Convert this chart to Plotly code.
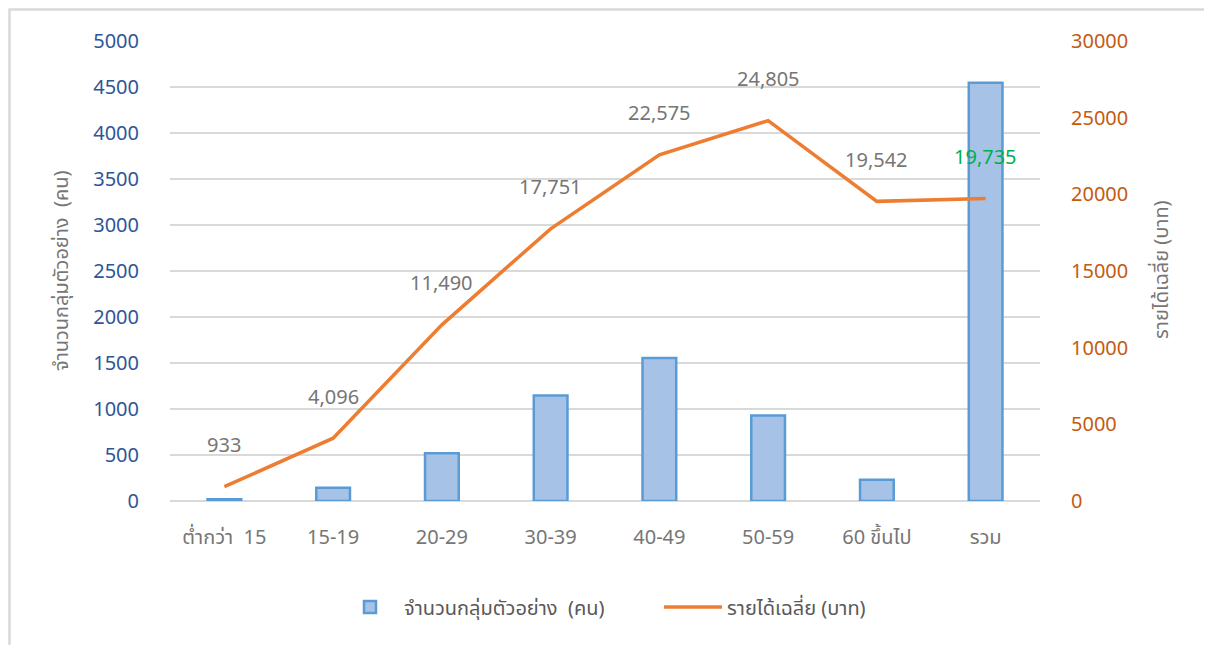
import plotly.graph_objects as go

categories = ["ต่ำกว่า  15", "15-19", "20-29", "30-39", "40-49", "50-59", "60 ขึ้นไป", "รวม"]
sample_count = [18, 145, 519, 1146, 1553, 928, 232, 4545]
avg_income = [933, 4096, 11490, 17751, 22575, 24805, 19542, 19735]
income_labels = ["933", "4,096", "11,490", "17,751", "22,575", "24,805", "19,542", "19,735"]
label_colors = ["#767676"] * 7 + ["#00B050"]

bar_name = "จำนวนกลุ่มตัวอย่าง  (คน)"
line_name = "รายได้เฉลี่ย (บาท)"
left_title = "จำนวนกลุ่มตัวอย่าง  (คน)"
right_title = "รายได้เฉลี่ย (บาท)"

FONT = "Noto Sans, Noto Sans Thai, Tahoma, sans-serif"

# The page body has an 8px margin; work in page pixel coordinates.
OFF = 8
FIG_W, FIG_H = 1212 - 2 * OFF, 653 - 2 * OFF
PL, PR, PT, PB = 170, 1040, 41, 501  # plot area in page pixels
L = PL - OFF
T = PT - OFF
W = PR - PL
H = PB - PT
R = FIG_W - L - W
B = FIG_H - T - H


def px(xp):
    return (xp - PL) / W


def py(yp):
    return (PB - yp) / H


fig = go.Figure()
fig.add_trace(go.Bar(
    x=categories, y=sample_count, name=bar_name, yaxis="y",
    width=0.31,
    marker=dict(color="#a6c2e6", line=dict(color="#5b9bd5", width=2.5)),
))
fig.add_trace(go.Scatter(
    x=categories, y=avg_income, name=line_name, yaxis="y2",
    mode="lines", line=dict(color="#ed7d31", width=3.5),
))

annotations = []
for c, v, t, col in zip(categories, avg_income, income_labels, label_colors):
    annotations.append(dict(
        x=c, y=v, xref="x", yref="y2", text=t, showarrow=False,
        yshift=42, font=dict(size=20, color=col, family=FONT),
    ))
annotations.append(dict(
    x=px(60), y=py(270), xref="paper", yref="paper", text=left_title,
    textangle=-90, showarrow=False, xanchor="center", yanchor="middle",
    font=dict(size=20, color="#767676", family=FONT),
))
annotations.append(dict(
    x=px(1160), y=py(270), xref="paper", yref="paper", text=right_title,
    textangle=-90, showarrow=False, xanchor="center", yanchor="middle",
    font=dict(size=20, color="#767676", family=FONT),
))

# outer chart border: only left and top edges are visible in the reference
bx0, by_top, bx1, by_bot = px(OFF + 1.5), py(OFF + 1.5), px(1240), py(700)
border_path = f"M {bx0},{by_bot} L {bx0},{by_top} L {bx1},{by_top}"

fig.update_layout(
    width=FIG_W, height=FIG_H,
    margin=dict(l=L, r=R, t=T, b=B, autoexpand=False),
    paper_bgcolor="white", plot_bgcolor="white",
    font=dict(family=FONT, size=20, color="#767676"),
    showlegend=True,
    legend=dict(orientation="h", x=px(336), xanchor="left", y=py(607), yanchor="middle",
                font=dict(size=20, color="#595959"), traceorder="normal",
                entrywidth=250, entrywidthmode="pixels", itemwidth=58),
    xaxis=dict(
        showgrid=False, showline=False, zeroline=False,
        ticks="outside", ticklen=18, tickcolor="rgba(0,0,0,0)",
        tickfont=dict(size=20, color="#767676"),
    ),
    yaxis=dict(
        range=[0, 5000], dtick=500, tick0=0, tickformat="d",
        showgrid=True, gridcolor="#d9d9d9", gridwidth=2,
        zeroline=True, zerolinecolor="#d9d9d9", zerolinewidth=2,
        showline=False,
        ticks="outside", ticklen=26, tickcolor="rgba(0,0,0,0)",
        tickfont=dict(size=20, color="#2f5597"),
    ),
    yaxis2=dict(
        range=[0, 30000], dtick=5000, tick0=0, tickformat="d",
        overlaying="y", side="right",
        showgrid=False, zeroline=False, showline=False,
        ticks="outside", ticklen=26, tickcolor="rgba(0,0,0,0)",
        tickfont=dict(size=20, color="#c55a11"),
    ),
    annotations=annotations,
    shapes=[dict(
        type="path", xref="paper", yref="paper", path=border_path,
        line=dict(color="#d9d9d9", width=2.5), layer="below",
    )],
)

fig.write_html("out.html")
